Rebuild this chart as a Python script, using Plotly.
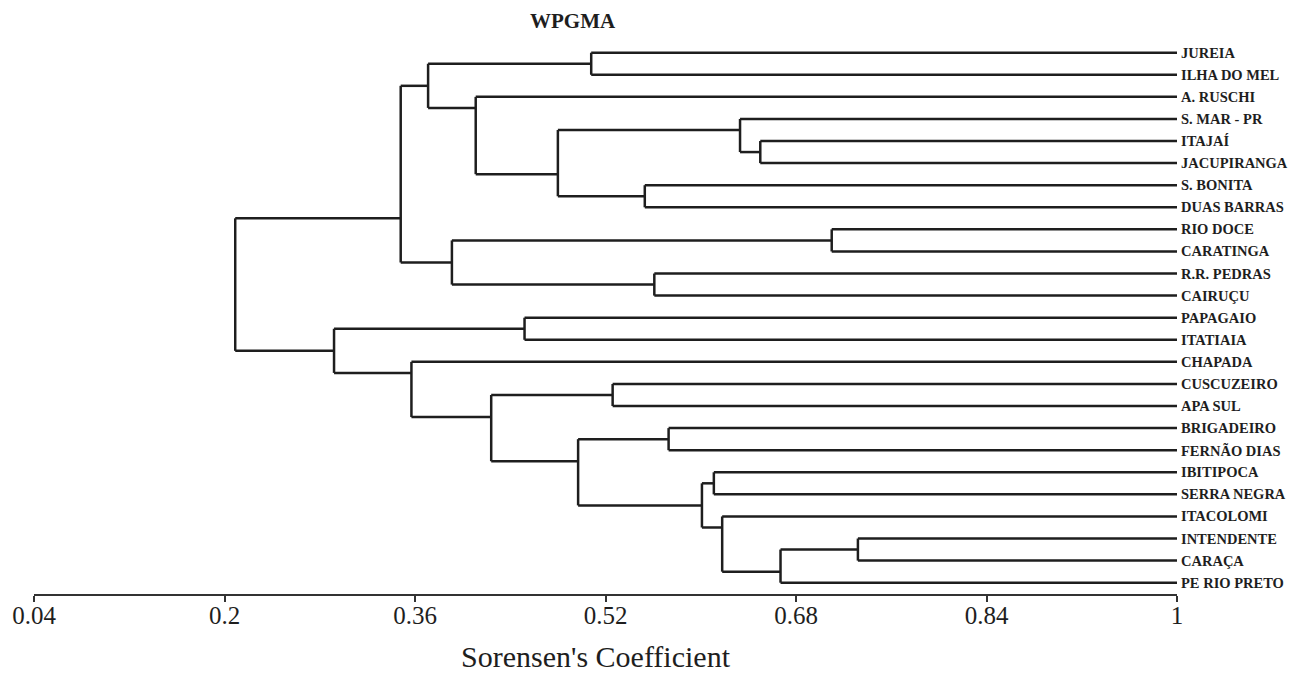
import plotly.graph_objects as go

# ---- data ----
leaf_labels = ["JUREIA", "ILHA DO MEL", "A. RUSCHI", "S. MAR - PR", "ITAJAÍ", "JACUPIRANGA",
               "S. BONITA", "DUAS BARRAS", "RIO DOCE", "CARATINGA", "R.R. PEDRAS", "CAIRUÇU",
               "PAPAGAIO", "ITATIAIA", "CHAPADA", "CUSCUZEIRO", "APA SUL", "BRIGADEIRO",
               "FERNÃO DIAS", "IBITIPOCA", "SERRA NEGRA", "ITACOLOMI", "INTENDENTE", "CARAÇA",
               "PE RIO PRETO"]
# merges: cluster id = 25 + position in these lists
merge_left = [0, 4, 3, 6, 27, 2, 25, 8, 10, 32, 31, 12, 15, 17, 19, 22, 40, 21, 39, 38, 37, 14, 36, 35]
merge_right = [1, 5, 26, 7, 28, 29, 30, 9, 11, 33, 34, 13, 16, 18, 20, 23, 24, 41, 42, 43, 44, 45, 46, 47]
merge_height = [0.508, 0.650, 0.633, 0.553, 0.480, 0.411, 0.371, 0.710, 0.561, 0.391, 0.348,
                0.452, 0.526, 0.573, 0.611, 0.732, 0.667, 0.618, 0.601, 0.497, 0.424, 0.357,
                0.292, 0.209]
tick_vals = [0.04, 0.2, 0.36, 0.52, 0.68, 0.84, 1.0]
tick_text = ["0.04", "0.2", "0.36", "0.52", "0.68", "0.84", "1"]

n = len(leaf_labels)
leaf_height = 1.0

# ---- build dendrogram geometry ----
span = {}      # node -> (min leaf, max leaf)
out_y = {}     # node -> y of its connecting horizontal line
height = {}
for i in range(n):
    span[i] = (i, i)
    out_y[i] = -i
    height[i] = leaf_height

xs, ys = [], []
for k, (a, b, h) in enumerate(zip(merge_left, merge_right, merge_height)):
    node = n + k
    height[node] = h
    span[node] = (min(span[a][0], span[b][0]), max(span[a][1], span[b][1]))
    out_y[node] = -(span[a][1] + 0.5)
    for c in (a, b):
        xs += [height[c], h, None]
        ys += [out_y[c], out_y[c], None]
    xs += [h, h, None]
    ys += [out_y[a], out_y[b], None]

fig = go.Figure()
fig.add_trace(go.Scatter(x=xs, y=ys, mode="lines",
                         line=dict(color="#1e1e1e", width=2.5),
                         hoverinfo="skip", showlegend=False))

for i, lab in enumerate(leaf_labels):
    fig.add_annotation(x=leaf_height, y=-i, xref="x", yref="y", text="<b>%s</b>" % lab,
                       showarrow=False, xanchor="left", yanchor="middle", xshift=2,
                       font=dict(family="Liberation Serif", size=14.5, color="#1e1e1e"))

fig.add_annotation(x=0.4716, y=1.0343, xref="paper", yref="paper", text="<b>WPGMA</b>",
                   showarrow=False, xanchor="center", yanchor="middle",
                   font=dict(family="Liberation Serif", size=21, color="#1e1e1e"))
fig.add_annotation(x=0.4917, y=-0.1137, xref="paper", yref="paper", text="Sorensen's Coefficient",
                   showarrow=False, xanchor="center", yanchor="middle",
                   font=dict(family="Liberation Serif", size=30, color="#1e1e1e"))

fig.update_layout(
    width=1296, height=675,
    margin=dict(l=32, r=119, t=40, b=81),
    plot_bgcolor="white", paper_bgcolor="white",
    xaxis=dict(range=[0.04, 1.0], tickvals=tick_vals, ticktext=tick_text,
               showgrid=False, zeroline=False, showline=True, linecolor="#333333", linewidth=2,
               ticks="outside", ticklen=6, tickwidth=2, tickcolor="#333333",
               ticklabelstandoff=-8,
               tickfont=dict(family="Liberation Serif", size=25, color="#1e1e1e")),
    yaxis=dict(range=[-24.512, 0.575], visible=False, showgrid=False, zeroline=False),
)

fig.write_html("out.html", config={"displayModeBar": False},
               post_script="document.body.style.margin='0';document.body.style.overflow='hidden';")
